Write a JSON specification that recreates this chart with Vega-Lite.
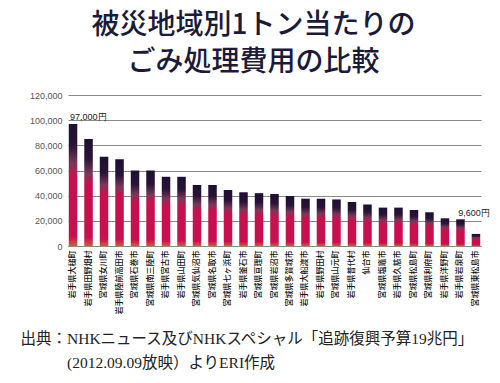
{
  "$schema": "https://vega.github.io/schema/vega-lite/v6.json",
  "width": 413,
  "height": 151,
  "autosize": {"type": "none"},
  "padding": {"left": 68, "top": 95, "right": 19, "bottom": 137},
  "background": "white",
  "config": {"view": {"stroke": null}},
  "title": {
    "text": ["被災地域別1トン当たりの", "ごみ処理費用の比較"],
    "font": "Noto Sans CJK JP",
    "fontSize": 28,
    "fontWeight": 500,
    "color": "#1a1a3a",
    "lineHeight": 37,
    "anchor": "middle",
    "dx": -21,
    "offset": 14
  },
  "data": {
    "values": [
      {"area": "岩手県大槌町", "cost": 97000, "note": "97,000円"},
      {"area": "岩手県田野畑村", "cost": 85000, "note": ""},
      {"area": "宮城県女川町", "cost": 71000, "note": ""},
      {"area": "岩手県陸前高田市", "cost": 69000, "note": ""},
      {"area": "宮城県石巻市", "cost": 60000, "note": ""},
      {"area": "宮城県南三陸町", "cost": 60000, "note": ""},
      {"area": "岩手県宮古市", "cost": 55000, "note": ""},
      {"area": "岩手県山田町", "cost": 55000, "note": ""},
      {"area": "宮城県気仙沼市", "cost": 48500, "note": ""},
      {"area": "宮城県名取市", "cost": 48500, "note": ""},
      {"area": "宮城県七ヶ浜町", "cost": 44500, "note": ""},
      {"area": "岩手県釜石市", "cost": 42700, "note": ""},
      {"area": "宮城県亘理町", "cost": 42000, "note": ""},
      {"area": "宮城県岩沼市", "cost": 41300, "note": ""},
      {"area": "宮城県多賀城市", "cost": 39700, "note": ""},
      {"area": "岩手県大船渡市", "cost": 37600, "note": ""},
      {"area": "岩手県野田村", "cost": 37600, "note": ""},
      {"area": "宮城県山元町", "cost": 37000, "note": ""},
      {"area": "岩手県普代村", "cost": 35000, "note": ""},
      {"area": "仙台市", "cost": 33000, "note": ""},
      {"area": "宮城県塩竈市", "cost": 30500, "note": ""},
      {"area": "岩手県久慈市", "cost": 30500, "note": ""},
      {"area": "宮城県松島町", "cost": 28600, "note": ""},
      {"area": "宮城県利府町", "cost": 26800, "note": ""},
      {"area": "岩手県洋野町", "cost": 22000, "note": ""},
      {"area": "岩手県岩泉町", "cost": 21200, "note": ""},
      {"area": "宮城県東松島市", "cost": 9600, "note": "9,600円"}
    ]
  },
  "encoding": {
    "x": {
      "field": "area",
      "type": "nominal",
      "sort": null,
      "scale": {"paddingInner": 0.45, "paddingOuter": 0.05},
      "axis": {
        "labelAngle": -90,
        "labelFont": "Noto Sans CJK JP",
        "labelFontSize": 8,
        "labelFontWeight": 500,
        "labelColor": "#111111",
        "labelPadding": 4,
        "ticks": false,
        "domainColor": "#8a8a8a",
        "title": ["出典：NHKニュース及びNHKスペシャル「追跡復興予算19兆円」", "\u200b\u3000\u3000\u3000(2012.09.09放映）よりERI作成"],
        "titleFont": "Liberation Serif, Noto Sans CJK JP",
        "titleFontSize": 15.5,
        "titleFontWeight": "normal",
        "titleColor": "#222222",
        "titleLineHeight": 24,
        "titleAnchor": "start",
        "titleAlign": "left",
        "titleBaseline": "top",
        "titleX": -48,
        "titleY": 85
      }
    },
    "y": {
      "field": "cost",
      "type": "quantitative",
      "scale": {"domain": [0, 120000], "nice": false},
      "axis": {
        "values": [0, 20000, 40000, 60000, 80000, 100000, 120000],
        "format": ",d",
        "title": null,
        "domain": false,
        "ticks": false,
        "labelOverlap": false,
        "labelFlush": false,
        "labelPadding": 6,
        "labelFont": "Liberation Sans",
        "labelFontSize": 9,
        "labelColor": "#555555",
        "gridColor": "#8a8a8a",
        "gridWidth": 1
      }
    }
  },
  "layer": [
    {
      "mark": {
        "type": "bar",
        "color": {
          "gradient": "linear",
          "x1": 0, "y1": 0, "x2": 0, "y2": 1,
          "stops": [
            {"offset": 0, "color": "#1d0f33"},
            {"offset": 0.18, "color": "#2a1238"},
            {"offset": 0.32, "color": "#7a3858"},
            {"offset": 0.42, "color": "#c8104e"},
            {"offset": 0.92, "color": "#c8104e"},
            {"offset": 1, "color": "#c6603c"}
          ]
        }
      }
    },
    {
      "transform": [{"filter": "datum.note == '97,000円'"}],
      "mark": {"type": "text", "align": "left", "baseline": "bottom", "dx": -3, "dy": -2, "font": "Liberation Sans", "fontSize": 9, "color": "#222222"},
      "encoding": {
        "text": {"field": "note"}
      }
    },
    {
      "transform": [{"filter": "datum.note == '9,600円'"}],
      "mark": {"type": "text", "align": "center", "baseline": "bottom", "dx": -2, "dy": -16, "font": "Liberation Sans", "fontSize": 9, "color": "#222222"},
      "encoding": {
        "text": {"field": "note"}
      }
    }
  ]
}
